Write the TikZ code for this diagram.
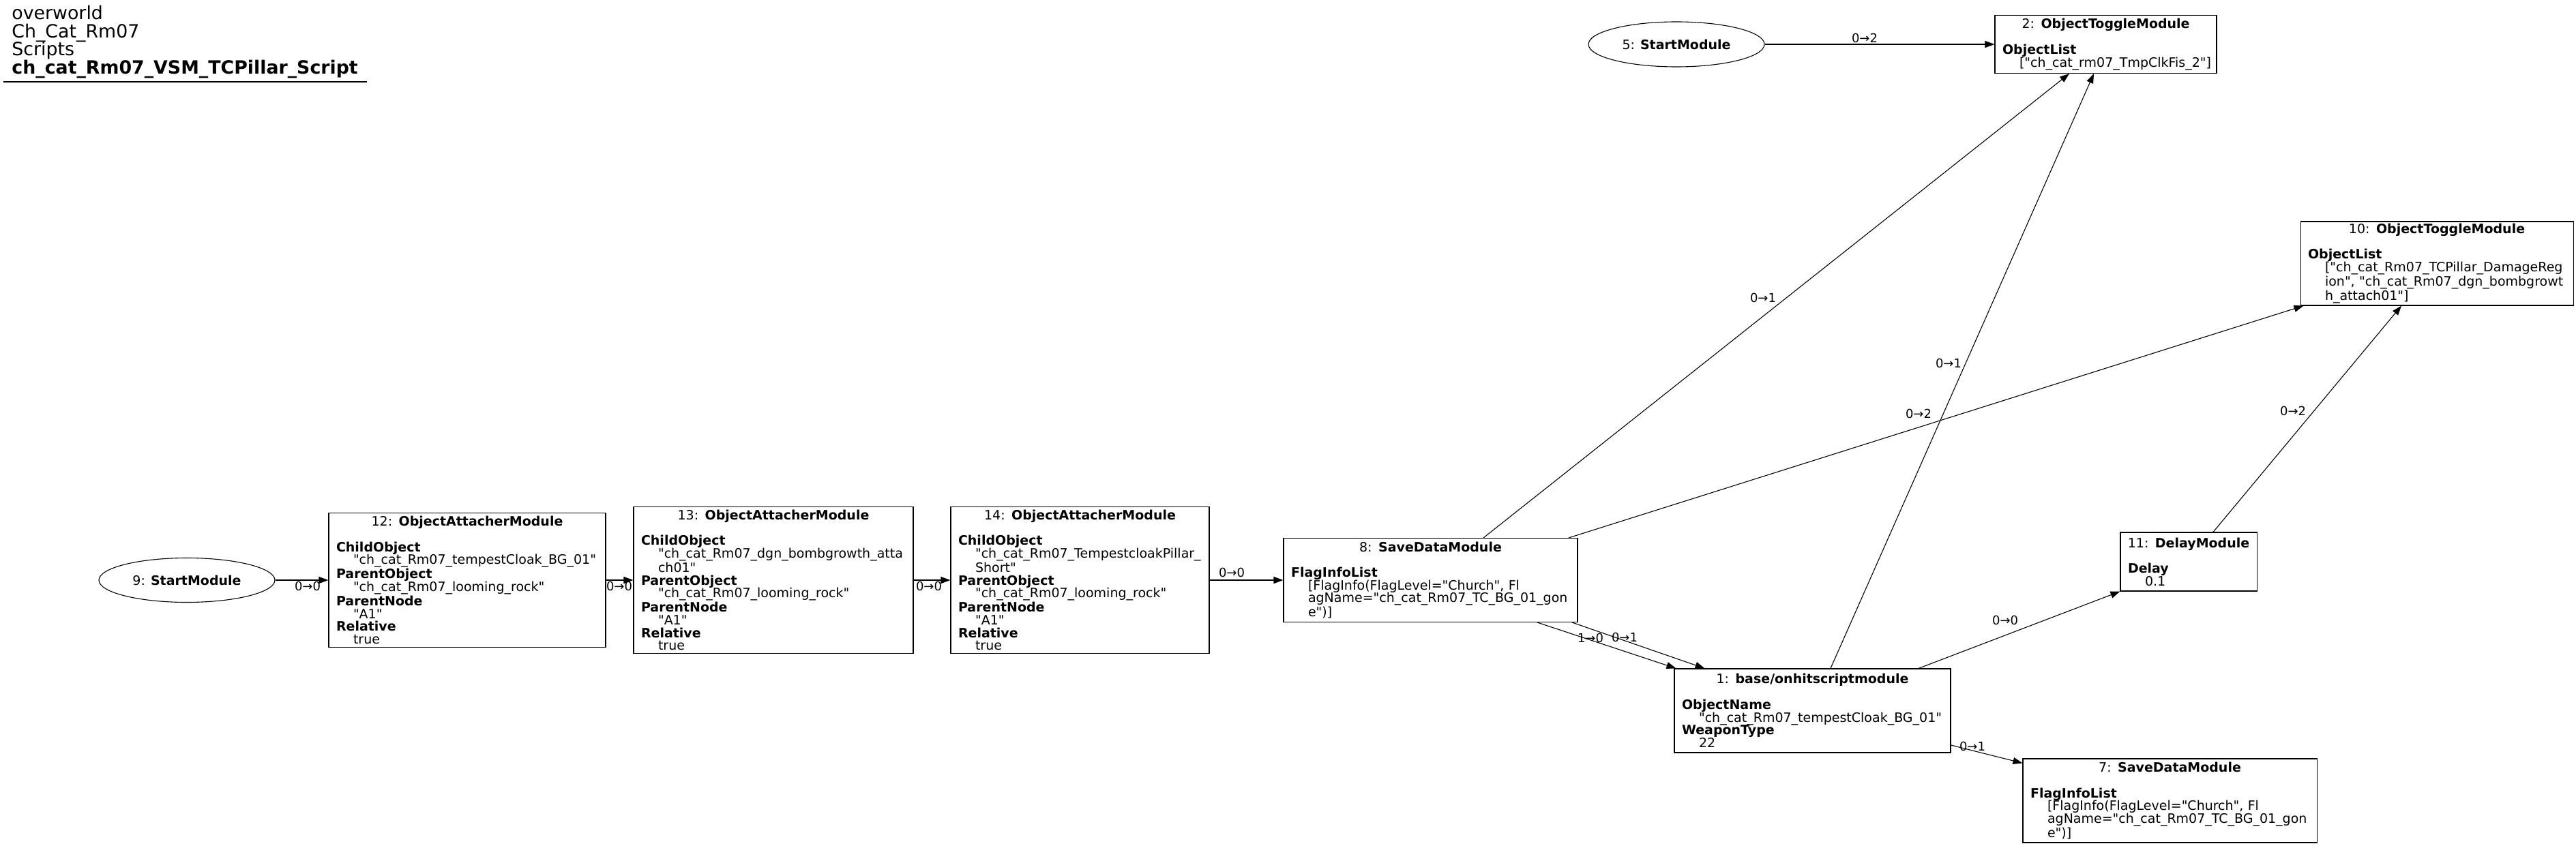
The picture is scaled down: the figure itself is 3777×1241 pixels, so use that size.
\documentclass[tikz,border=0pt]{standalone}
\usepackage{fontspec}
\setmainfont{DejaVu Sans}[Ligatures=TeXOff]
\usetikzlibrary{arrows.meta,shapes.geometric}
\setlength{\parindent}{0pt}
\newcommand{\qq}{\char34\relax}
\newcommand{\nfont}{\fontsize{9.5}{9.35}\selectfont}
\newcommand{\lfont}{\fontsize{9}{10}\selectfont}
\newcommand{\tfont}{\fontsize{13.4}{13.25}\selectfont}
\newcommand{\hd}[2]{\makebox[\hsize][c]{#1: \textbf{#2}}\\[9.35pt]}
\newcommand{\ky}[1]{\mbox{\textbf{#1}}\\}
\newcommand{\vl}[1]{\mbox{\hspace*{12.5pt}#1}\\}
\newcommand{\vle}[1]{\mbox{\hspace*{12.5pt}#1}}
\tikzset{
  box/.style={draw, line width=0.55pt, rectangle, inner xsep=5.5pt, inner ysep=0pt, align=left, font=\nfont, anchor=center},
  oval/.style={draw, line width=0.55pt, ellipse, inner sep=0pt, font=\nfont},
  edge/.style={draw, line width=0.55pt, -{Triangle[length=7pt,width=5pt]}},
  lbl/.style={font=\lfont, inner sep=0pt},
  ttl/.style={font=\tfont, inner sep=0pt, anchor=base west},
}
\begin{document}
\begin{tikzpicture}[x=0.5pt,y=-0.5pt]
\useasboundingbox (0,0) rectangle (3777,1241);
\fill[white] (0,0) rectangle (3777,1241);
% title
\node[ttl] (t1) at (17,29) {overworld};
\node[ttl] (t2) at (17,56) {Ch\_Cat\_Rm07};
\node[ttl] (t3) at (17,82) {Scripts};
\node[ttl] (t4) at (17,109) {\textbf{ch\_cat\_Rm07\_VSM\_TCPillar\_Script}};
\draw[line width=0.55pt] (5,120) -- (538,120);
% nodes
\node[oval, minimum width=129pt, minimum height=32.5pt] (n9) at (274,851) {9: \textbf{StartModule}};
\node[oval, minimum width=129pt, minimum height=33pt] (n5) at (2458,65) {5: \textbf{StartModule}};
\node[box, text width=192pt, minimum height=98.5pt] (n12) at (685,851) {%
\hd{12}{ObjectAttacherModule}
\ky{ChildObject}
\vl{\qq ch\_cat\_Rm07\_tempestCloak\_BG\_01\qq}
\ky{ParentObject}
\vl{\qq ch\_cat\_Rm07\_looming\_rock\qq}
\ky{ParentNode}
\vl{\qq A1\qq}
\ky{Relative}
\vle{true}};
\node[box, text width=194pt, minimum height=107.5pt] (n13) at (1134,851) {%
\hd{13}{ObjectAttacherModule}
\ky{ChildObject}
\vl{\qq ch\_cat\_Rm07\_dgn\_bombgrowth\_atta}
\vl{ch01\qq}
\ky{ParentObject}
\vl{\qq ch\_cat\_Rm07\_looming\_rock\qq}
\ky{ParentNode}
\vl{\qq A1\qq}
\ky{Relative}
\vle{true}};
\node[box, text width=178.5pt, minimum height=107.5pt] (n14) at (1583.5,851) {%
\hd{14}{ObjectAttacherModule}
\ky{ChildObject}
\vl{\qq ch\_cat\_Rm07\_TempestcloakPillar\_}
\vl{Short\qq}
\ky{ParentObject}
\vl{\qq ch\_cat\_Rm07\_looming\_rock\qq}
\ky{ParentNode}
\vl{\qq A1\qq}
\ky{Relative}
\vle{true}};
\node[box, text width=204.5pt, minimum height=61.5pt] (n8) at (2097.5,851) {%
\hd{8}{SaveDataModule}
\ky{FlagInfoList}
\vl{[FlagInfo(FlagLevel=\qq Church\qq, Fl}
\vl{agName=\qq ch\_cat\_Rm07\_TC\_BG\_01\_gon}
\vle{e\qq)]}};
\node[box, text width=191.5pt, minimum height=61.5pt] (n1) at (2657.5,1042.5) {%
\hd{1}{base/onhitscriptmodule}
\ky{ObjectName}
\vl{\qq ch\_cat\_Rm07\_tempestCloak\_BG\_01\qq}
\ky{WeaponType}
\vle{22}};
\node[box, text width=89pt, minimum height=43pt] (n11) at (3209,824) {%
\hd{11}{DelayModule}
\ky{Delay}
\vle{0.1}};
\node[box, text width=204.5pt, minimum height=61.5pt] (n7) at (3181.5,1174.5) {%
\hd{7}{SaveDataModule}
\ky{FlagInfoList}
\vl{[FlagInfo(FlagLevel=\qq Church\qq, Fl}
\vl{agName=\qq ch\_cat\_Rm07\_TC\_BG\_01\_gon}
\vle{e\qq)]}};
\node[box, text width=151.5pt, minimum height=42.5pt] (n2) at (3087.5,65) {%
\hd{2}{ObjectToggleModule}
\ky{ObjectList}
\vle{[\qq ch\_cat\_rm07\_TmpClkFis\_2\qq]}};
\node[box, text width=189pt, minimum height=61.5pt] (n10) at (3573,386.5) {%
\hd{10}{ObjectToggleModule}
\ky{ObjectList}
\vl{[\qq ch\_cat\_Rm07\_TCPillar\_DamageReg}
\vl{ion\qq, \qq ch\_cat\_Rm07\_dgn\_bombgrowt}
\vle{h\_attach01\qq]}};
% edges
\draw[edge] (n9) -- (n12);
\draw[edge] (n12) -- (n13);
\draw[edge] (n13) -- (n14);
\draw[edge] (n14) -- (n8);
\draw[edge] (n5) -- (n2);
\draw[edge] ([xshift=38.75pt]n8.north) -- ([xshift=-26.75pt]n2.south);
\draw[edge] ([xshift=13.25pt]n1.north) -- ([xshift=-8.75pt]n2.south);
\draw[edge] ([xshift=101.25pt]n8.north) -- ([xshift=2.5pt]n10.south west);
\draw[edge] ([xshift=18pt]n11.north) -- ([xshift=-26pt]n10.south);
\draw[edge] ([xshift=78.25pt]n8.south) -- ([xshift=1.5pt]n1.north west);
\draw[edge] ([xshift=103.75pt]n8.south) -- ([xshift=22.5pt]n1.north west);
\draw[edge] ([xshift=77.75pt]n1.north) -- (n11.south west);
\draw[edge] ([yshift=-25.25pt]n1.east) -- ([yshift=-3.5pt]n7.north west);
% edge labels
\node[lbl] (e1) at (451,860) {0→0};
\node[lbl] (e2) at (908,860) {0→0};
\node[lbl] (e3) at (1362,860) {0→0};
\node[lbl] (e4) at (1806,840) {0→0};
\node[lbl] (e5) at (2734,56) {0→2};
\node[lbl] (e6) at (2585,437) {0→1};
\node[lbl] (e7) at (2857,533) {0→1};
\node[lbl] (e8) at (2813,607) {0→2};
\node[lbl] (e9) at (3362,603) {0→2};
\node[lbl] (e10) at (2332,936) {1→0};
\node[lbl] (e11) at (2382,935) {0→1};
\node[lbl] (e12) at (2940,910) {0→0};
\node[lbl] (e13) at (2892,1095) {0→1};
\end{tikzpicture}
\end{document}
